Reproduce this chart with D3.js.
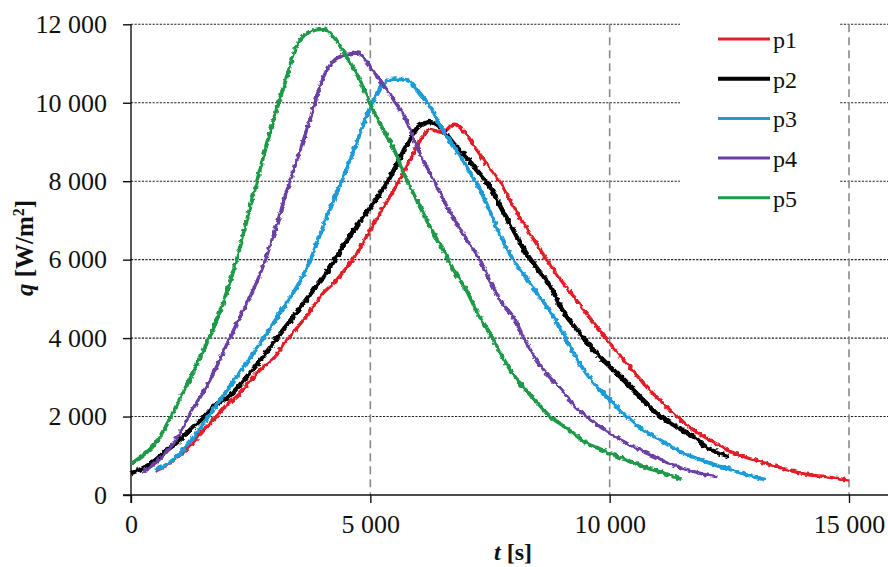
<!DOCTYPE html>
<html>
<head>
<meta charset="utf-8">
<script src="https://cdn.jsdelivr.net/npm/d3@7"></script>
<style>
  html, body { margin: 0; padding: 0; background: #fff; }
  svg { display: block; }
  text { font-family: "Liberation Serif", "Times New Roman", serif; }
</style>
</head>
<body>
<svg id="chart" width="888" height="567"></svg>
<script>
// time grid [s]
const tGrid = d3.range(0, 15001, 250);

// heat flux q [W/m2] for each series, aligned with tGrid (null = no data)
const p1 = [null, null, 600, 760, 990, 1270, 1640, 1950, 2300, 2560, 2930, 3250, 3510, 3940, 4310, 4700, 5130, 5420, 5790, 6230, 6760, 7290, 7790, 8340, 8950, 9320, 9240, 9450, 9200, 8750, 8330, 7900, 7330, 6830, 6350, 5880, 5450, 5060, 4650, 4260, 3870, 3510, 3150, 2780, 2480, 2180, 1900, 1660, 1470, 1290, 1120, 1000, 900, 810, 720, 630, 560, 500, 470, 420, 380];
const p2 = [560, 680, 880, 1140, 1380, 1680, 1960, 2280, 2460, 2770, 3130, 3500, 3920, 4320, 4720, 5130, 5520, 5980, 6470, 6920, 7330, 7770, 8300, 8900, 9380, 9510, 9320, 8940, 8620, 8240, 7860, 7280, 6730, 6180, 5750, 5350, 4740, 4310, 3930, 3580, 3280, 2980, 2670, 2360, 2060, 1850, 1670, 1490, 1240, 1090, 980, null, null, null, null, null, null, null, null, null, null];
const p3 = [null, null, 650, 780, 1030, 1380, 1800, 2230, 2660, 3085, 3510, 3965, 4420, 4900, 5380, 6000, 6800, 7570, 8290, 9100, 9900, 10450, 10600, 10580, 10300, 9890, 9330, 8880, 8390, 7880, 7230, 6520, 5970, 5550, 5110, 4690, 4180, 3600, 3120, 2740, 2430, 2120, 1850, 1620, 1440, 1260, 1090, 960, 850, 750, 665, 560, 470, 390, null, null, null, null, null, null, null];
const p4 = [null, 590, 805, 1103, 1531, 2114, 2602, 3172, 3838, 4476, 5086, 5800, 6712, 7733, 8654, 9620, 10600, 11090, 11230, 11270, 10900, 10500, 10050, 9550, 8800, 8200, 7590, 7020, 6530, 6080, 5450, 4900, 4520, 3900, 3400, 3000, 2680, 2280, 2020, 1780, 1580, 1390, 1230, 1080, 940, 800, 690, 600, 520, 470, null, null, null, null, null, null, null, null, null, null, null];
const p5 = [800, 1010, 1300, 1800, 2400, 3000, 3650, 4330, 5170, 6190, 7390, 8550, 9650, 10640, 11550, 11820, 11880, 11660, 11180, 10650, 9965, 9355, 8794, 8060, 7440, 6830, 6290, 5720, 5234, 4620, 4119, 3540, 3050, 2675, 2340, 2005, 1790, 1565, 1330, 1197, 1066, 944, 822, 705, 614, 508, 400, null, null, null, null, null, null, null, null, null, null, null, null, null, null];

const seriesNames = ["p1", "p2", "p3", "p4", "p5"];
const seriesValues = [p1, p2, p3, p4, p5];
const seriesColors = ["#e41f26", "#000000", "#1b9bd8", "#6a3fa5", "#1c9a47"];
const seriesWidths = [3.4, 4.6, 3.8, 3.4, 3.8];

const yTicks = [0, 2000, 4000, 6000, 8000, 10000, 12000];
const xTicks = [0, 5000, 10000, 15000];

const fmt = v => d3.format(",")(v).replace(/,/g, " ");

const svg = d3.select("#chart");
const x = d3.scaleLinear().domain([0, 15000]).range([131, 849]);
const y = d3.scaleLinear().domain([0, 12000]).range([495, 24.3]);

// rough-line filter to imitate the measured signal's jagged look
const defs = svg.append("defs");
const flt = defs.append("filter").attr("id", "rough")
  .attr("filterUnits", "userSpaceOnUse")
  .attr("x", 0).attr("y", 0).attr("width", 888).attr("height", 567);
flt.append("feTurbulence").attr("type", "fractalNoise")
  .attr("baseFrequency", "0.28").attr("numOctaves", 1).attr("seed", 3).attr("result", "noise");
flt.append("feDisplacementMap").attr("in", "SourceGraphic").attr("in2", "noise")
  .attr("scale", 5).attr("xChannelSelector", "R").attr("yChannelSelector", "G");

// horizontal dotted grid
svg.append("g").selectAll("line").data(yTicks.filter(d => d > 0)).join("line")
  .attr("x1", 131).attr("x2", 888)
  .attr("y1", d => y(d)).attr("y2", d => y(d))
  .attr("stroke", "#222").attr("stroke-width", 1.1)
  .attr("stroke-dasharray", "2.2,1.4");

// vertical dashed grid
svg.append("g").selectAll("line").data(xTicks.filter(d => d > 0)).join("line")
  .attr("x1", d => x(d)).attr("x2", d => x(d))
  .attr("y1", y(12000)).attr("y2", 495)
  .attr("stroke", "#8a8a8a").attr("stroke-width", 1.6)
  .attr("stroke-dasharray", "8,5");

// legend background (white box interrupting the grid)
svg.append("rect").attr("x", 680).attr("y", 0).attr("width", 160).attr("height", 225).attr("fill", "#fff");

// y axis
const yAxis = d3.axisLeft(y).tickValues(yTicks).tickSize(8).tickPadding(16).tickFormat(fmt);
const gy = svg.append("g").attr("transform", "translate(131,0)").call(yAxis);
gy.select(".domain").attr("stroke", "#111").attr("stroke-width", 1.4).attr("d", `M0,${y(12000)}V503`);
gy.selectAll(".tick line").attr("stroke", "#111").attr("stroke-width", 1.4);
gy.selectAll(".tick text").attr("font-family", "Liberation Serif").attr("font-size", 26).attr("fill", "#111");

// x axis
const xAxis = d3.axisBottom(x).tickValues(xTicks).tickSize(8).tickPadding(12).tickFormat(fmt);
const gx = svg.append("g").attr("transform", "translate(0,495)").call(xAxis);
gx.select(".domain").attr("stroke", "#111").attr("stroke-width", 1.4).attr("d", "M123,0H888");
gx.selectAll(".tick line").attr("stroke", "#111").attr("stroke-width", 1.4);
gx.selectAll(".tick text").attr("font-family", "Liberation Serif").attr("font-size", 26).attr("fill", "#111");

// series lines
const line = d3.line()
  .defined(d => d[1] != null)
  .curve(d3.curveMonotoneX)
  .x(d => x(d[0])).y(d => y(d[1]));

const gLines = svg.append("g").attr("filter", "url(#rough)");
seriesValues.forEach((vals, i) => {
  const pts = tGrid.map((t, j) => [t, vals[j]]);
  gLines.append("path").datum(pts)
    .attr("fill", "none")
    .attr("stroke", seriesColors[i])
    .attr("stroke-width", seriesWidths[i])
    .attr("stroke-linejoin", "round")
    .attr("d", line);
});

// legend
const lg = svg.append("g");
seriesNames.forEach((name, i) => {
  const ly = 39 + i * 39.7;
  lg.append("line").attr("x1", 718).attr("x2", 770).attr("y1", ly).attr("y2", ly)
    .attr("stroke", seriesColors[i]).attr("stroke-width", i === 1 ? 4 : 3);
  lg.append("text").attr("x", 773).attr("y", ly + 9)
    .attr("font-size", 24).attr("fill", "#111").text(name);
});

// axis titles
const yt = svg.append("text")
  .attr("transform", "translate(33,248) rotate(-90)")
  .attr("text-anchor", "middle").attr("font-size", 25).attr("font-weight", "bold").attr("fill", "#111");
yt.append("tspan").attr("font-style", "italic").text("q");
yt.append("tspan").text(" [W/m");
yt.append("tspan").attr("font-size", 16).attr("dy", -9).text("2");
yt.append("tspan").attr("dy", 9).text("]");

const xt = svg.append("text")
  .attr("x", 513).attr("y", 560)
  .attr("text-anchor", "middle").attr("font-size", 24).attr("font-weight", "bold").attr("fill", "#111");
xt.append("tspan").attr("font-style", "italic").text("t");
xt.append("tspan").text(" [s]");
</script>
</body>
</html>
